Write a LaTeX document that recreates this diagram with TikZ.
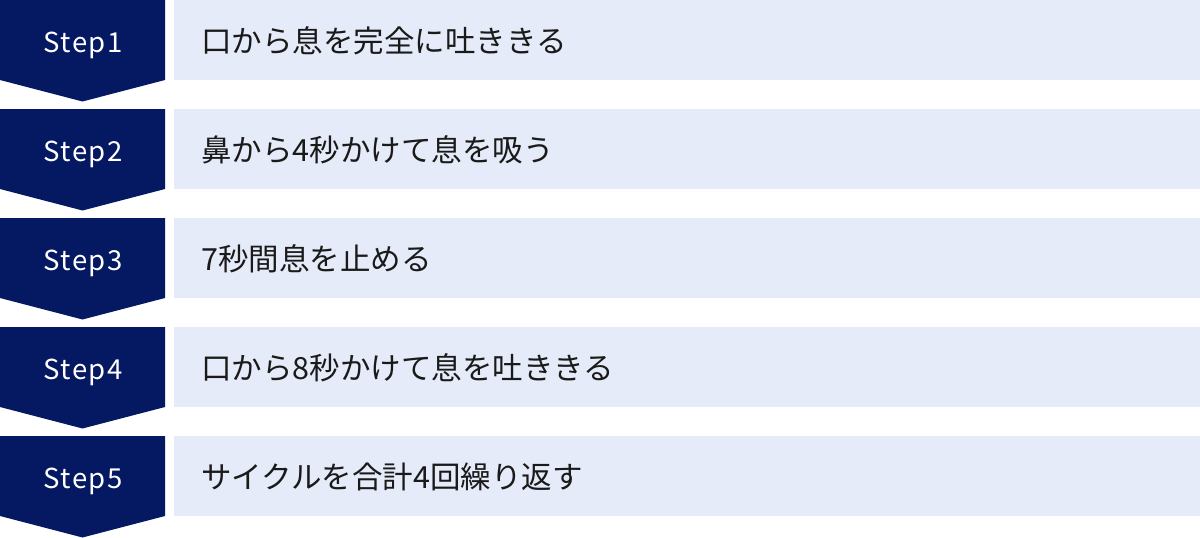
\documentclass[tikz,border=0pt]{standalone}
\usepackage{fontspec}
\setmainfont{Noto Sans CJK JP}
\newfontfamily\stepfont[LetterSpace=6]{Noto Sans CJK JP}
\definecolor{navy}{HTML}{051862}
\definecolor{lightbar}{HTML}{E5EBF8}
\definecolor{txt}{HTML}{1A1A1A}
\tikzset{
  stepshape/.style={fill=navy, draw=none},
  barbox/.style={fill=lightbar, draw=none},
  steplabel/.style={text=white, font=\stepfont\fontsize{27.5}{27.5}\selectfont, inner sep=0pt, anchor=base},
  bartext/.style={text=txt, font=\fontsize{30.5}{30.5}\selectfont, inner sep=0pt, anchor=west},
}
\begin{document}
\begin{tikzpicture}[x=1pt,y=-1pt]
\useasboundingbox (0,0) rectangle (1200,538);
\foreach \i/\t in {1/口から息を完全に吐ききる,2/鼻から4秒かけて息を吸う,3/7秒間息を止める,4/口から8秒かけて息を吐ききる,5/サイクルを合計4回繰り返す}{
  \pgfmathsetmacro{\y}{(\i-1)*109}
  \fill[stepshape] (0,\y) -- (165,\y) -- (165,\y+80) -- (82.5,\y+101.5) -- (0,\y+80) -- cycle;
  \fill[barbox] (174,\y) rectangle (1200,\y+80);
  \node[steplabel] (s\i) at (83,\y+52.5) {Step\i};
  \node[bartext] (b\i) at (201,\y+41) {\t};
}
\end{tikzpicture}
\end{document}
